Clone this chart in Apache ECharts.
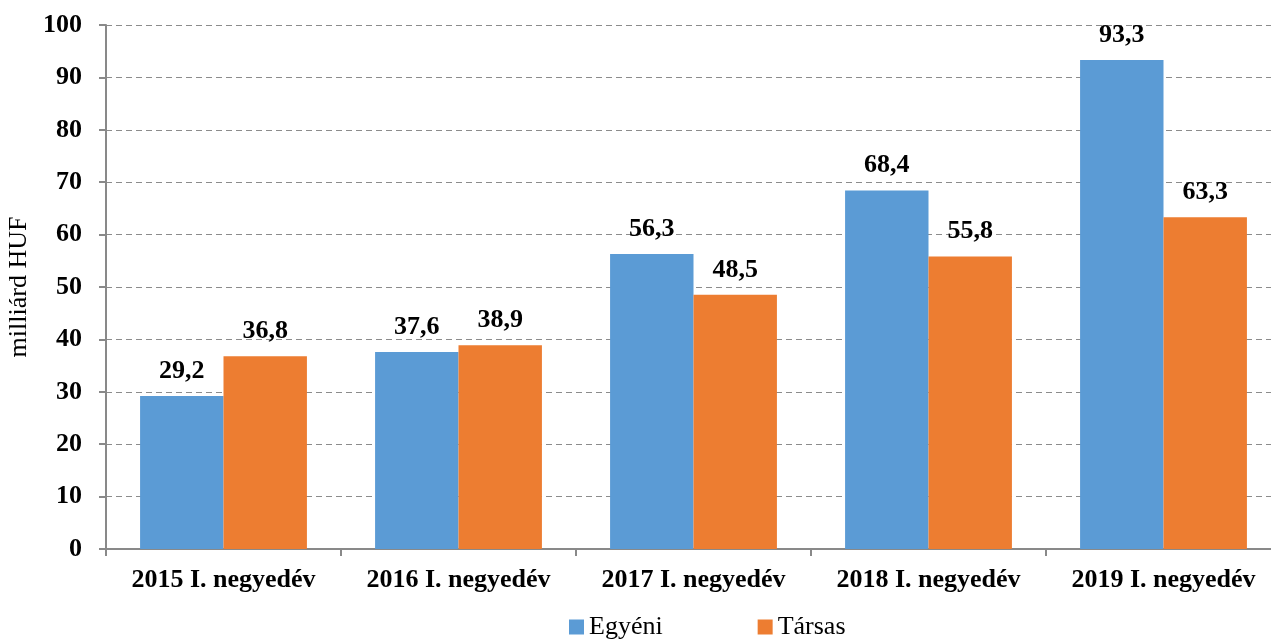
<!DOCTYPE html>
<html>
<head>
<meta charset="utf-8">
<script src="https://cdn.jsdelivr.net/npm/echarts@6/dist/echarts.min.js"></script>
<style>
  html, body { margin: 0; padding: 0; background: #fff; }
  #chart { width: 1271px; height: 642px; }
</style>
</head>
<body>
<div id="chart"></div>
<script>
const categories = ['2015 I. negyedév', '2016 I. negyedév', '2017 I. negyedév', '2018 I. negyedév', '2019 I. negyedév']
const egyeni = [29.2, 37.6, 56.3, 68.4, 93.3]
const tarsas = [36.8, 38.9, 48.5, 55.8, 63.3]

const serif = '"Liberation Serif", "DejaVu Serif", serif'
const chart = echarts.init(document.getElementById('chart'))

function barLabel() {
    return {
        show: true,
        position: 'top',
        distance: 12,
        fontFamily: serif,
        fontWeight: 'bold',
        fontSize: 26,
        color: '#000',
        formatter: p => p.value.toFixed(1).replace('.', ',')
    }
}

chart.setOption({
    backgroundColor: '#fff',
    animation: false,
    legend: {
        top: 614,
        left: 569,
        padding: 0,
        itemWidth: 15,
        itemHeight: 15,
        itemGap: 95,
        icon: 'rect',
        textStyle: { fontFamily: serif, fontSize: 26, color: '#000' },
        data: ['Egyéni', 'Társas']
    },
    grid: { left: 106, top: 25, width: 1175, height: 524, outerBoundsMode: 'none' },
    xAxis: {
        type: 'category',
        data: categories,
        axisLine: { lineStyle: { color: '#898989', width: 2 } },
        axisTick: { show: true, interval: 0, length: 7, lineStyle: { color: '#898989', width: 2 } },
        axisLabel: {
            interval: 0,
            hideOverlap: false,
            margin: 18,
            fontFamily: serif,
            fontWeight: 'bold',
            fontSize: 26,
            color: '#000'
        }
    },
    yAxis: {
        type: 'value',
        min: 0,
        max: 100,
        interval: 10,
        name: 'milliárd HUF',
        nameLocation: 'middle',
        nameGap: 74,
        nameTextStyle: { fontFamily: serif, fontSize: 26, color: '#000' },
        axisLine: { show: true, lineStyle: { color: '#898989', width: 2 } },
        axisTick: { show: true, length: 7, lineStyle: { color: '#898989', width: 2 } },
        axisLabel: {
            margin: 24,
            fontFamily: serif,
            fontWeight: 'bold',
            fontSize: 26,
            color: '#000'
        },
        splitLine: {
            lineStyle: { color: '#8c8c8c', width: 1, type: [6, 4] }
        }
    },
    series: [
        {
            name: 'Egyéni',
            type: 'bar',
            data: egyeni,
            barGap: '0%',
            barCategoryGap: '29%',
            itemStyle: { color: '#5B9BD5' },
            label: barLabel()
        },
        {
            name: 'Társas',
            type: 'bar',
            data: tarsas,
            itemStyle: { color: '#ED7D31' },
            label: barLabel()
        }
    ]
})
</script>
</body>
</html>
